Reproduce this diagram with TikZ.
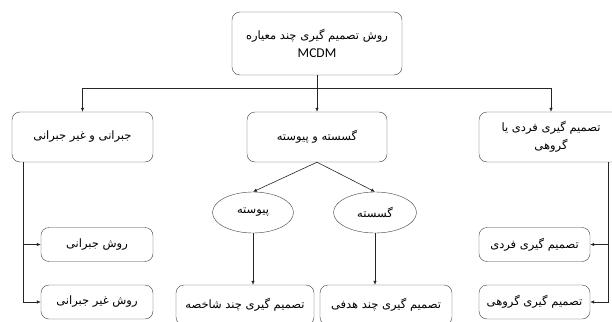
\documentclass[tikz,border=0pt]{standalone}
\usepackage{fontspec}
\setmainfont{Liberation Serif}
\newfontfamily\arabicfont[Script=Arabic]{DejaVu Sans}
\newfontfamily\latinsans{Carlito}
\TeXXeTstate=1
\usetikzlibrary{arrows.meta}
\usetikzlibrary{shapes.geometric}
\newcommand{\fa}[1]{{\arabicfont\beginR #1\endR}}

\begin{document}
\begin{tikzpicture}[x=1pt, y=-1pt,
    box/.style={draw=black!75, rounded corners=8pt, align=center, inner sep=2pt,
      font=\fontsize{11.5}{20}\selectfont},
    oval/.style={draw=black!75, ellipse, inner sep=1pt, font=\fontsize{11.5}{14}\selectfont},
    arr/.style={draw=black!85, line width=0.6pt, -{Latex[length=4pt,width=3.5pt]}}]
  \useasboundingbox[fill=white] (0,0) rectangle (612,321);

  % levels
  \node[box, minimum width=170pt, minimum height=63pt] (root) at (317,43.5)
    {\fa{روش تصمیم گیری چند معیاره}\\[-2pt]{\latinsans\fontsize{13.5}{14}\selectfont MCDM}};
  \node[box, minimum width=141pt, minimum height=50pt] (comp) at (82.5,137) {\fa{جبرانی و غیر جبرانی}};
  \node[box, minimum width=140pt, minimum height=50pt] (disc) at (317,137) {\fa{گسسته و پیوسته}};
  \node[box, minimum width=144pt, minimum height=50pt] (indv) at (551,137)
    {\fa{تصمیم گیری فردی یا}\\[-2pt]\fa{گروهی}};

  \node[oval, minimum width=81pt, minimum height=41pt] (cont) at (253,212.5) {\fa{پیوسته}};
  \node[oval, minimum width=83pt, minimum height=41pt] (dscr) at (375,212.5) {\fa{گسسته}};

  \node[box, minimum width=112pt, minimum height=34pt] (cmp1) at (97,244.5) {\fa{روش جبرانی}};
  \node[box, minimum width=112pt, minimum height=34pt] (cmp2) at (97,302) {\fa{روش غیر جبرانی}};
  \node[box, minimum width=111pt, minimum height=34pt] (ind1) at (534.5,244.5) {\fa{تصمیم گیری فردی}};
  \node[box, minimum width=111pt, minimum height=34pt] (ind2) at (534.5,302) {\fa{تصمیم گیری گروهی}};

  \node[box, minimum width=138pt, minimum height=40pt] (madm) at (245,305) {\fa{تصمیم گیری چند شاخصه}};
  \node[box, minimum width=132pt, minimum height=40pt] (modm) at (386,305) {\fa{تصمیم گیری چند هدفی}};

  % connectors
  \coordinate (bus) at (317,88);
  \coordinate (ltop) at (23,162);
  \coordinate (rtop) at (608,162);
  \draw[arr] (root.south) -- (disc.north);
  \draw[arr] (bus) -| (comp.north);
  \draw[arr] (bus) -| (indv.north);
  \draw[arr] (disc.south) -- (cont.north);
  \draw[arr] (disc.south) -- (dscr.north);
  \draw[arr] (cont.south) -- (cont.south |- madm.north);
  \draw[arr] (dscr.south) -- (dscr.south |- modm.north);
  \draw[arr] (ltop) |- (cmp1.west);
  \draw[arr] (ltop) |- (cmp2.west);
  \draw[arr] (rtop) |- (ind1.east);
  \draw[arr] (rtop) |- (ind2.east);
\end{tikzpicture}
\end{document}
